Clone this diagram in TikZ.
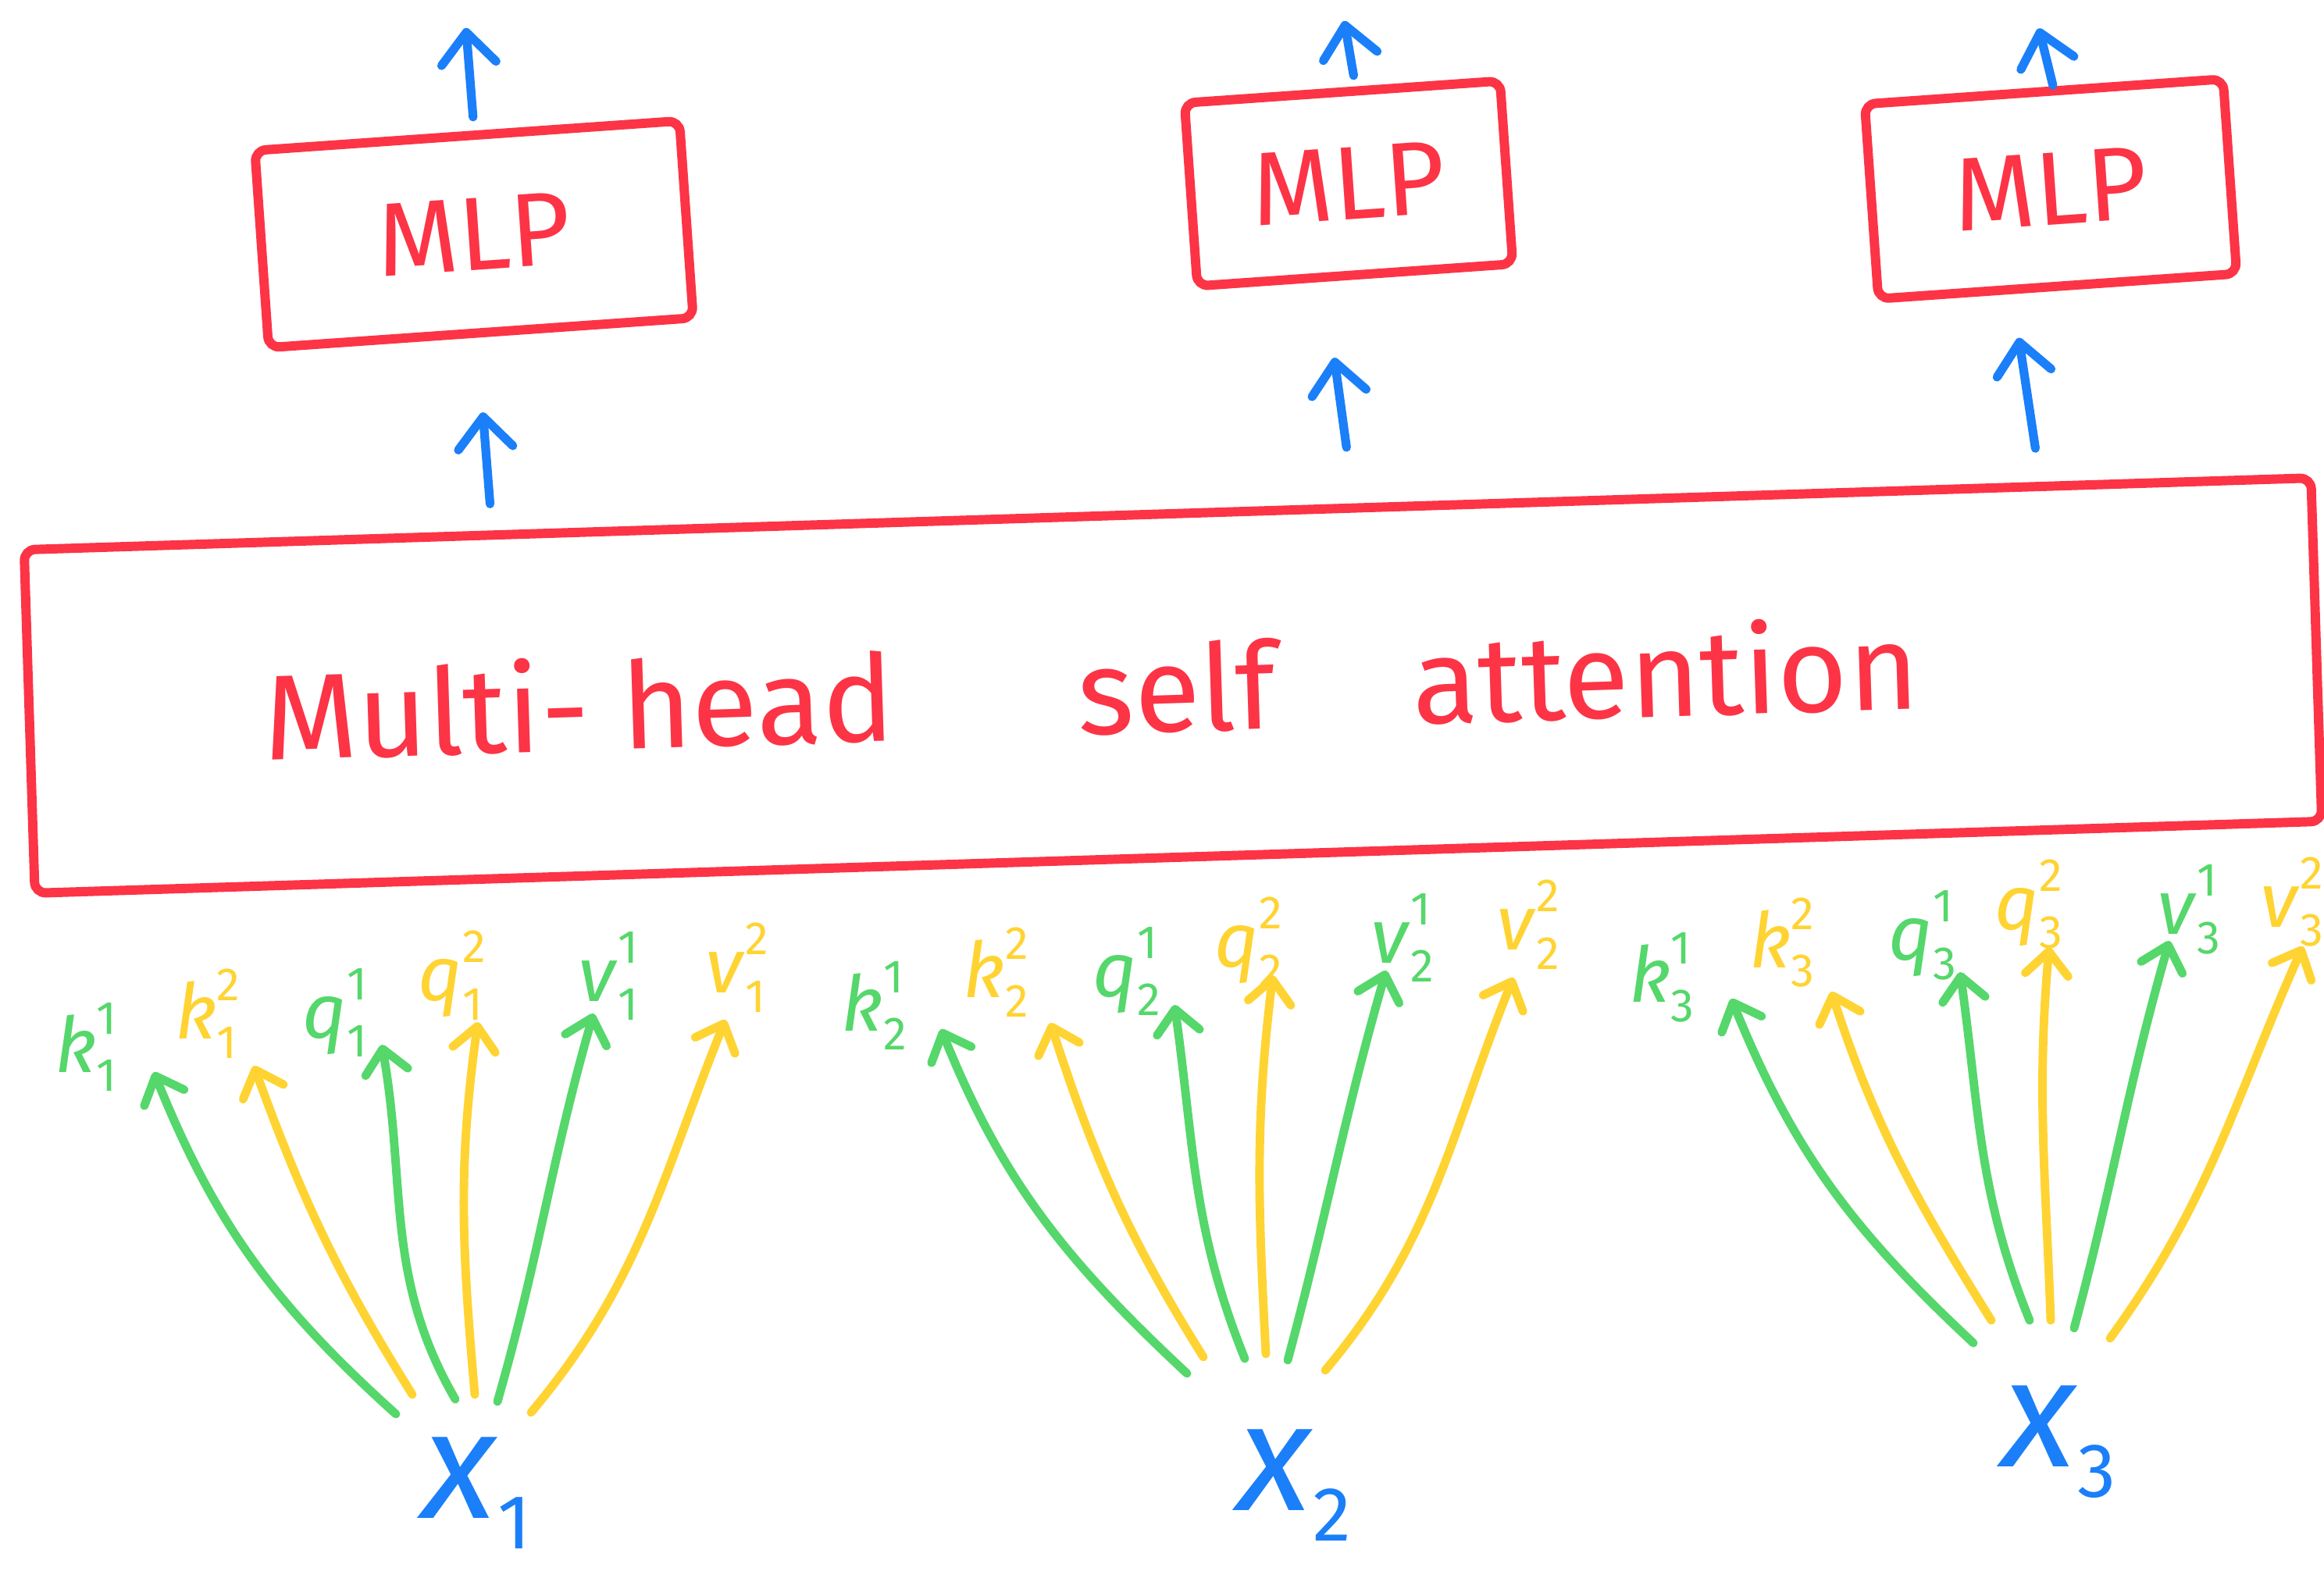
\documentclass[tikz,border=0pt]{standalone}
\usepackage{fontspec}
\setmainfont{Fira Sans}
\usetikzlibrary{arrows.meta,calc}
\definecolor{penred}{HTML}{FC3446}
\definecolor{penblue}{HTML}{1A7FF9}
\definecolor{pengreen}{HTML}{55D76B}
\definecolor{penyellow}{HTML}{FFD332}
\newcommand{\tok}[3]{\textit{#1}\rlap{\raisebox{0.5em}{\fontsize{17}{18}\selectfont #2}}\raisebox{-0.25em}{\fontsize{17}{18}\selectfont #3}}
\newcommand{\inp}[1]{\textit{x}\raisebox{-0.2em}{\fontsize{28}{30}\selectfont #1}}
\tikzset{
  mlpbox/.style={rectangle, rounded corners=4pt, draw=penred, line width=3.4pt, rotate=4,
                 text=penred, font=\fontsize{38}{40}\selectfont, minimum width=#1},
  attbox/.style={rectangle, rounded corners=4pt, draw=penred, line width=3.4pt, rotate=1.8,
                 text=penred, font=\fontsize{44}{48}\selectfont},
  barr/.style={-{Straight Barb[length=4mm,width=7mm,round]}, line width=3.2pt, draw=penblue, line cap=round},
  garr/.style={-{Straight Barb[length=3mm,width=5.5mm,round]}, line width=3.1pt, draw=pengreen, line cap=round},
  yarr/.style={-{Straight Barb[length=3mm,width=5.5mm,round]}, line width=3.1pt, draw=penyellow, line cap=round},
  glab/.style={text=pengreen, font=\fontsize{28}{30}\selectfont, inner sep=0pt},
  ylab/.style={text=penyellow, font=\fontsize{28}{30}\selectfont, inner sep=0pt},
  xlab/.style={text=penblue, font=\fontsize{56}{60}\selectfont, inner sep=0pt},
}
\begin{document}
\begin{tikzpicture}
  \useasboundingbox (0,0) rectangle (29.76,-20.12);

  \node[mlpbox=5.45cm, minimum height=2.53cm] (m1) at (6.07,-3.00) {MLP};
  \node[mlpbox=4.05cm, minimum height=2.35cm] (m2) at (17.27,-2.35) {MLP};
  \node[mlpbox=4.60cm, minimum height=2.50cm] (m3) at (26.26,-2.42) {MLP};
  \node[attbox, minimum width=29.3cm, minimum height=4.4cm] (att) at (15.02,-8.78)
    {Multi- head\hspace{2.35cm}self\hspace{1.75cm}attention\hspace*{2.1cm}};

  \draw[barr] ($(m1.north)+(0.08,0.18)$) -- ($(m1.north)+(-0.01,1.32)$);
  \draw[barr] ($(m2.north)+(0.15,0.15)$) -- ($(m2.north)+(0.03,0.85)$);
  \draw[barr] ($(m3.north)+(0.12,0.02)$) -- ($(m3.north)+(-0.06,0.75)$);
  \draw[barr] ($(att.north west)!0.205!(att.north east)+(0,0.34)$) -- ($(m1.south)+(0.02,-0.96)$);
  \draw[barr] ($(att.north west)!0.578!(att.north east)+(0,0.72)$) -- ($(m2.south)+(-0.27,-1.00)$);
  \draw[barr] ($(att.north west)!0.878!(att.north east)+(0,0.43)$) -- ($(m3.south)+(-0.50,-0.60)$);

  \node[xlab] (x1) at (6.10,-19.12) {\inp{1}};
  \node[xlab] (x2) at (16.57,-19.02) {\inp{2}};
  \node[xlab] (x3) at (26.37,-18.47) {\inp{3}};

  \node[glab] (k11) at (1.10,-13.41) {\tok{k}{1}{1}};
  \node[ylab] (k21) at (2.64,-12.98) {\tok{k}{2}{1}};
  \node[glab] (q11) at (4.29,-12.97) {\tok{q}{1}{1}};
  \node[ylab] (q21) at (5.77,-12.49) {\tok{q}{2}{1}};
  \node[glab] (v11) at (7.79,-12.50) {\tok{v}{1}{1}};
  \node[ylab] (v21) at (9.42,-12.39) {\tok{v}{2}{1}};

  \node[glab] (k12) at (11.19,-12.88) {\tok{k}{1}{2}};
  \node[ylab] (k22) at (12.75,-12.45) {\tok{k}{2}{2}};
  \node[glab] (q12) at (14.43,-12.44) {\tok{q}{1}{2}};
  \node[ylab] (q22) at (15.99,-12.06) {\tok{q}{2}{2}};
  \node[glab] (v12) at (17.96,-12.01) {\tok{v}{1}{2}};
  \node[ylab] (v22) at (19.57,-11.84) {\tok{v}{2}{2}};

  \node[glab] (k13) at (21.28,-12.52) {\tok{k}{1}{3}};
  \node[ylab] (k23) at (22.82,-12.07) {\tok{k}{2}{3}};
  \node[glab] (q13) at (24.62,-11.98) {\tok{q}{1}{3}};
  \node[ylab] (q23) at (25.98,-11.58) {\tok{q}{2}{3}};
  \node[glab] (v13) at (28.03,-11.65) {\tok{v}{1}{3}};
  \node[ylab] (v23) at (29.35,-11.55) {\tok{v}{2}{3}};

  \draw[garr] ($(x1)+(-1.03,1.01)$) to[out=138,in=-68] ($(k11)+(0.87,-0.32)$);
  \draw[yarr] ($(x1)+(-0.82,1.26)$) to[out=122,in=-70] ($(k21)+(0.61,-0.67)$);
  \draw[garr] ($(x1)+(-0.27,1.20)$) to[out=120,in=-80] ($(q11)+(0.60,-0.41)$);
  \draw[yarr] ($(x1)+(-0.02,1.26)$) to[out=95,in=-98] ($(q21)+(0.35,-0.60)$);
  \draw[garr] ($(x1)+(0.27,1.17)$) to[out=74,in=-106] ($(v11)+(-0.19,-0.48)$);
  \draw[yarr] ($(x1)+(0.70,1.03)$) to[out=50,in=-112] ($(v21)+(-0.13,-0.67)$);

  \draw[garr] ($(x2)+(-1.37,1.43)$) to[out=137,in=-68] ($(k12)+(0.86,-0.30)$);
  \draw[yarr] ($(x2)+(-1.16,1.64)$) to[out=122,in=-72] ($(k22)+(0.70,-0.65)$);
  \draw[garr] ($(x2)+(-0.63,1.62)$) to[out=112,in=-82] ($(q12)+(0.61,-0.43)$);
  \draw[yarr] ($(x2)+(-0.36,1.68)$) to[out=93,in=-97] ($(q22)+(0.31,-0.43)$);
  \draw[garr] ($(x2)+(-0.08,1.60)$) to[out=75,in=-106] ($(v12)+(-0.21,-0.42)$);
  \draw[yarr] ($(x2)+(0.40,1.47)$) to[out=50,in=-112] ($(v22)+(-0.19,-0.68)$);

  \draw[garr] ($(x3)+(-1.10,1.27)$) to[out=137,in=-68] ($(k13)+(0.89,-0.27)$);
  \draw[yarr] ($(x3)+(-0.87,1.56)$) to[out=122,in=-72] ($(k23)+(0.63,-0.63)$);
  \draw[garr] ($(x3)+(-0.38,1.56)$) to[out=112,in=-82] ($(q13)+(0.48,-0.47)$);
  \draw[yarr] ($(x3)+(-0.11,1.56)$) to[out=92,in=-95] ($(q23)+(0.26,-0.55)$);
  \draw[garr] ($(x3)+(0.19,1.46)$) to[out=75,in=-106] ($(v13)+(-0.25,-0.40)$);
  \draw[yarr] ($(x3)+(0.65,1.33)$) to[out=54,in=-114] ($(v23)+(0.14,-0.57)$);
\end{tikzpicture}
\end{document}
